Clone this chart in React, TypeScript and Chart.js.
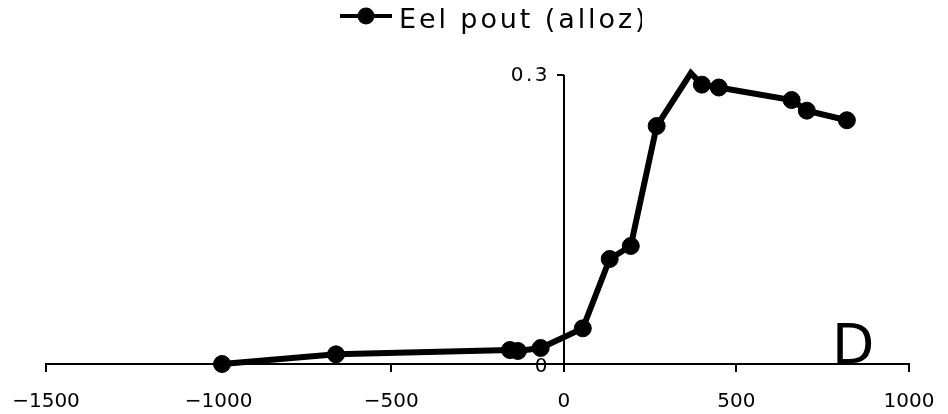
import { useEffect, useRef } from "react";
import { Chart, registerables } from "chart.js";

Chart.register(...registerables);

const seriesLabel = "Eel pout (alloz)";
const panelLetter = "D";
const xValues = [-990, -660, -156, -133, -67, 55, 133, 194, 269, 368, 400, 449, 660, 704, 820];
const yValues = [0, 0.01, 0.0145, 0.0135, 0.0166, 0.037, 0.109, 0.1225, 0.247, 0.302, 0.29, 0.287, 0.274, 0.263, 0.253];
const xTicks = [-1500, -1000, -500, 0, 500, 1000];
const yTicks = [0, 0.3];

const FONT = "'DejaVu Sans', Verdana, sans-serif";

const overlayPlugin = {
  id: "overlay",
  afterDraw(chart: any) {
    const ctx = chart.ctx as CanvasRenderingContext2D;
    const ys = chart.scales.y;
    const xs = chart.scales.x;
    const ax = Math.round(xs.getPixelForValue(0));
    const bottom = Math.round(ys.getPixelForValue(0));
    ctx.save();
    ctx.strokeStyle = "#000";
    ctx.fillStyle = "#000";
    ctx.lineWidth = 2;
    // y axis line (crossing at x = 0)
    ctx.beginPath();
    ctx.moveTo(ax, Math.round(ys.getPixelForValue(yTicks[yTicks.length - 1])));
    ctx.lineTo(ax, bottom);
    ctx.stroke();
    // y ticks + labels
    ctx.font = `20px ${FONT}`;
    (ctx as any).letterSpacing = "2.5px";
    ctx.textAlign = "right";
    ctx.textBaseline = "middle";
    yTicks.forEach((v) => {
      const py = Math.round(ys.getPixelForValue(v));
      ctx.beginPath();
      ctx.moveTo(ax - 7, py);
      ctx.lineTo(ax, py);
      ctx.stroke();
      ctx.fillText(String(v), ax - 14, v === 0 ? py + 3 : py + 1);
    });
    (ctx as any).letterSpacing = "0px";
    // x tick marks
    xTicks.forEach((v) => {
      const px = Math.round(xs.getPixelForValue(v));
      ctx.beginPath();
      ctx.moveTo(px, bottom);
      ctx.lineTo(px, bottom + 8);
      ctx.stroke();
    });
    ctx.restore();

    // legend
    ctx.save();
    ctx.strokeStyle = "#000";
    ctx.fillStyle = "#000";
    ctx.lineWidth = 4;
    ctx.beginPath();
    ctx.moveTo(340, 16);
    ctx.lineTo(392, 16);
    ctx.stroke();
    ctx.beginPath();
    ctx.arc(366, 16, 8.5, 0, Math.PI * 2);
    ctx.fill();
    ctx.beginPath();
    ctx.rect(0, 0, 642, 50);
    ctx.clip();
    ctx.font = `27px ${FONT}`;
    (ctx as any).letterSpacing = "2.9px";
    ctx.textBaseline = "alphabetic";
    ctx.textAlign = "left";
    ctx.fillText(seriesLabel, 399, 28);
    ctx.restore();

    ctx.save();
    ctx.fillStyle = "#000";
    ctx.font = `55px ${FONT}`;
    ctx.textBaseline = "alphabetic";
    ctx.textAlign = "left";
    ctx.fillText(panelLetter, 832, 363);
    ctx.restore();
  },
};

export default function App() {
  const ref = useRef<HTMLCanvasElement | null>(null);
  useEffect(() => {
    document.body.style.margin = "0";
    const canvas = ref.current;
    if (!canvas) return;
    const maxY = Math.max(...yValues);
    const chart = new Chart(canvas, {
      type: "line",
      data: {
        datasets: [
          {
            label: seriesLabel,
            data: xValues.map((x, i) => ({ x, y: yValues[i] })),
            borderColor: "#000",
            backgroundColor: "#000",
            borderWidth: 6,
            borderJoinStyle: "miter",
            pointRadius: (c: any) => (yValues[c.dataIndex] === maxY ? 0 : 8.5),
            pointHoverRadius: 8.5,
            pointBackgroundColor: "#000",
            pointBorderColor: "#000",
            pointBorderWidth: 1,
            tension: 0,
            clip: false,
          } as any,
        ],
      },
      options: {
        animation: false,
        responsive: false,
        maintainAspectRatio: false,
        layout: { padding: { top: 75, left: 46, right: 39, bottom: 0 } },
        plugins: { legend: { display: false }, tooltip: { enabled: false } },
        scales: {
          x: {
            type: "linear",
            position: "bottom",
            min: -1500,
            max: 1000,
            afterBuildTicks: (s: any) => {
              s.ticks = xTicks.map((v) => ({ value: v }));
            },
            afterFit: (s: any) => {
              s.height = 50;
            },
            grid: { drawOnChartArea: false, drawTicks: true, tickLength: 20, tickWidth: 2, tickColor: "rgba(0,0,0,0)" },
            border: { display: true, color: "#000", width: 2 },
            ticks: {
              font: { family: FONT, size: 20 },
              color: "#000",
              padding: 6,
              maxRotation: 0,
              autoSkip: false,
              callback: (v: any) => String(v).replace("-", "\u2212"),
            },
          },
          y: {
            type: "linear",
            display: false,
            min: 0,
            max: 0.3,
          },
        },
      },
      plugins: [overlayPlugin],
    });
    return () => chart.destroy();
  }, []);
  return (
    <div style={{ width: 948, height: 414 }}>
      <canvas ref={ref} width={948} height={414} style={{ display: "block", width: 948, height: 414 }} />
    </div>
  );
}
